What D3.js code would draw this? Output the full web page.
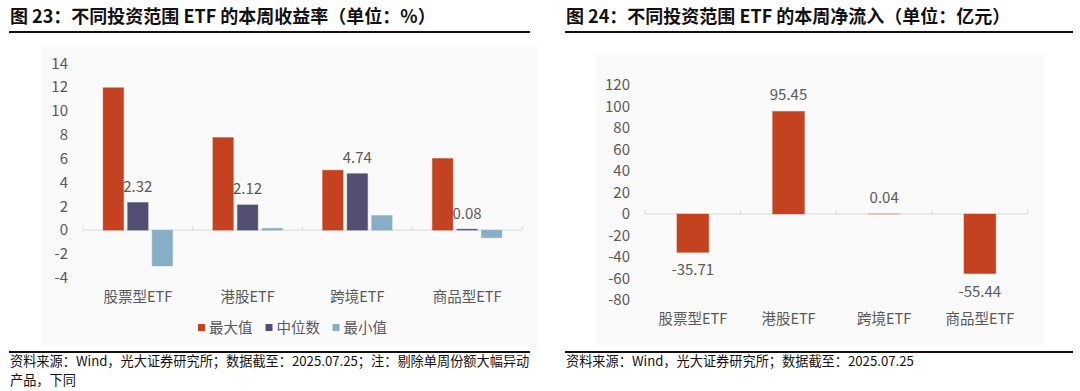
<!DOCTYPE html>
<html><head><meta charset="utf-8">
<script src="https://cdn.jsdelivr.net/npm/d3@7"></script>
<style>
html,body{margin:0;padding:0;background:#fff;}
svg{display:block;font-family:"Noto Sans CJK SC","Noto Sans",sans-serif;}
</style></head>
<body><svg id="c" width="1080" height="391"></svg>
<script>
// ---- data ----
const categories = ["股票型ETF", "港股ETF", "跨境ETF", "商品型ETF"];
const seriesNames = ["最大值", "中位数", "最小值"];
const maxValues = [11.95, 7.77, 5.03, 6.01];
const medianValues = [2.32, 2.12, 4.74, 0.08];
const minValues = [-3.01, 0.15, 1.23, -0.64];
const leftTicks = [-4, -2, 0, 2, 4, 6, 8, 10, 12, 14];
const netFlow = [-35.71, 95.45, 0.04, -55.44];
const rightTicks = [-80, -60, -40, -20, 0, 20, 40, 60, 80, 100, 120];
const title1 = "图 23：不同投资范围 ETF 的本周收益率（单位：%）";
const title2 = "图 24：不同投资范围 ETF 的本周净流入（单位：亿元）";
const source1a = "资料来源：Wind，光大证券研究所；数据截至：2025.07.25；注：剔除单周份额大幅异动";
const source1b = "产品，下同";
const source2 = "资料来源：Wind，光大证券研究所；数据截至：2025.07.25";

const colors = ["#C4421F", "#524F72", "#86AEC4"];
const gray = "#595959";
const svg = d3.select("#c");

// titles and rules
function header(x0, x1, t) {
  svg.append("text").attr("x", x0 + 1).attr("y", 23).attr("font-size", 18).attr("font-weight", "bold")
    .attr("fill", "#111").text(t);
  svg.append("line").attr("x1", x0).attr("x2", x1).attr("y1", 32).attr("y2", 32)
    .attr("stroke", "#111").attr("stroke-width", 2);
}
header(9, 530, title1);
header(565, 1073, title2);

// background panels
svg.append("rect").attr("x", 41).attr("y", 47).attr("width", 497).attr("height", 299).attr("fill", "#fafafa");
svg.append("rect").attr("x", 596).attr("y", 53).attr("width", 448).attr("height", 293).attr("fill", "#fafafa");

// footers
svg.append("line").attr("x1", 9).attr("x2", 530).attr("y1", 352).attr("y2", 352).attr("stroke", "#111").attr("stroke-width", 2);
svg.append("line").attr("x1", 565).attr("x2", 1073).attr("y1", 352).attr("y2", 352).attr("stroke", "#111").attr("stroke-width", 2);
svg.append("text").attr("x", 10).attr("y", 366).attr("font-size", 13.2).attr("fill", "#111").text(source1a);
svg.append("text").attr("x", 10).attr("y", 385).attr("font-size", 13.2).attr("fill", "#111").text(source1b);
svg.append("text").attr("x", 566).attr("y", 366).attr("font-size", 13.2).attr("fill", "#111").text(source2);

// ---- left chart ----
{
  const y = d3.scaleLinear().domain([-4, 14]).range([277.8, 63.3]);
  const x = d3.scaleBand().domain(categories).range([83, 522]).padding(0);
  const x1 = d3.scaleBand().domain(seriesNames).range([0, x.bandwidth()]).paddingInner(0.163).paddingOuter(0.82);
  const g = svg.append("g");
  g.selectAll(".yt").data(leftTicks).enter().append("text")
    .attr("x", 68).attr("y", d => y(d)).attr("dy", "0.35em").attr("text-anchor", "end")
    .attr("font-size", 15).attr("fill", gray).text(d => d);
  g.append("line").attr("x1", x.range()[0]).attr("x2", x.range()[1]).attr("y1", y(0)).attr("y2", y(0))
    .attr("stroke", "#d9d9d9").attr("stroke-width", 1);
  const bounds = categories.map(c => x(c)).concat([x.range()[1]]);
  g.selectAll(".xt").data(bounds).enter().append("line")
    .attr("x1", d => d).attr("x2", d => d).attr("y1", y(0) - 4).attr("y2", y(0))
    .attr("stroke", "#d9d9d9");
  const series = [maxValues, medianValues, minValues];
  series.forEach((vals, si) => {
    g.selectAll(".b" + si).data(vals).enter().append("rect")
      .attr("x", (d, i) => x(categories[i]) + x1(seriesNames[si]))
      .attr("width", x1.bandwidth())
      .attr("y", d => y(Math.max(0, d)))
      .attr("height", d => Math.abs(y(d) - y(0)))
      .attr("fill", colors[si]).attr("stroke", colors[si]).attr("stroke-opacity", 0.4).attr("stroke-width", 1);
  });
  g.selectAll(".ml").data(medianValues).enter().append("text")
    .attr("x", (d, i) => x(categories[i]) + x1(seriesNames[1]) + x1.bandwidth() / 2)
    .attr("y", d => y(Math.max(0, d)) - 10.5)
    .attr("text-anchor", "middle").attr("font-size", 15).attr("fill", gray).text(d => d.toFixed(2));
  g.selectAll(".cl").data(categories).enter().append("text")
    .attr("x", d => x(d) + x.bandwidth() / 2).attr("y", 302).attr("text-anchor", "middle")
    .attr("font-size", 14.5).attr("fill", gray).text(d => d);
  const legX = [198, 265.5, 332.5];
  seriesNames.forEach((s, i) => {
    g.append("rect").attr("x", legX[i]).attr("y", 324).attr("width", 7).attr("height", 7).attr("fill", colors[i]);
    g.append("text").attr("x", legX[i] + 11).attr("y", 333).attr("font-size", 14.5).attr("fill", gray).text(s);
  });
}

// ---- right chart ----
{
  const y = d3.scaleLinear().domain([-80, 120]).range([300, 85]);
  const x = d3.scaleBand().domain(categories).range([645, 1027.7]).padding(0);
  const x1 = d3.scaleBand().domain(["净流入"]).range([0, x.bandwidth()]).paddingInner(0).paddingOuter(1);
  const g = svg.append("g");
  g.selectAll(".yt").data(rightTicks).enter().append("text")
    .attr("x", 630).attr("y", d => y(d)).attr("dy", "0.35em").attr("text-anchor", "end")
    .attr("font-size", 15).attr("fill", gray).text(d => d);
  g.append("line").attr("x1", x.range()[0]).attr("x2", x.range()[1]).attr("y1", y(0)).attr("y2", y(0))
    .attr("stroke", "#d9d9d9").attr("stroke-width", 1);
  const bounds = categories.map(c => x(c)).concat([x.range()[1]]);
  g.selectAll(".xt").data(bounds).enter().append("line")
    .attr("x1", d => d).attr("x2", d => d).attr("y1", y(0) - 4).attr("y2", y(0))
    .attr("stroke", "#d9d9d9");
  g.selectAll(".b").data(netFlow).enter().append("rect")
    .attr("x", (d, i) => x(categories[i]) + x1("净流入"))
    .attr("width", x1.bandwidth())
    .attr("y", d => y(Math.max(0, d)))
    .attr("height", d => Math.abs(y(d) - y(0)))
    .attr("fill", colors[0]).attr("stroke", colors[0]).attr("stroke-opacity", 0.35).attr("stroke-width", 1);
  g.selectAll(".vl").data(netFlow).enter().append("text")
    .attr("x", (d, i) => x(categories[i]) + x.bandwidth() / 2)
    .attr("y", d => d >= 0 ? y(d) - 11 : y(d) + 23)
    .attr("text-anchor", "middle").attr("font-size", 15).attr("fill", gray).text(d => d.toFixed(2));
  g.selectAll(".cl").data(categories).enter().append("text")
    .attr("x", d => x(d) + x.bandwidth() / 2).attr("y", 324).attr("text-anchor", "middle")
    .attr("font-size", 14.5).attr("fill", gray).text(d => d);
}
</script></body></html>
